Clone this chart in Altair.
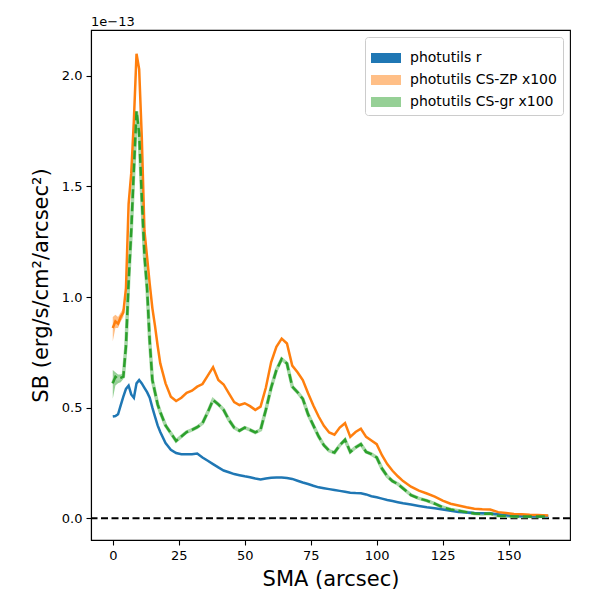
import pandas as pd
import altair as alt

# semi-major axis grid (arcsec)
sma = [0, 1, 2, 3, 4, 5, 6, 7, 8, 9, 10, 11, 12, 13, 14, 15, 16, 17, 18,
       20, 22, 24, 26, 28, 30, 32, 34, 36, 38, 40, 42, 44, 46, 48, 50, 52, 54, 56, 58,
       60, 62, 64, 66, 68, 70, 72, 74, 76, 78, 80, 82, 84, 86, 88, 90, 92, 94, 96, 98,
       100, 102, 104, 106, 108, 110,
       113, 116, 119, 122, 125, 128, 131, 134, 137, 140, 143, 146, 149, 152, 155, 158, 161,
       165]

# surface brightness in units of 1e-13
sb_r = [0.46, 0.462, 0.47, 0.51, 0.55, 0.585, 0.60, 0.56, 0.545, 0.61, 0.625, 0.61, 0.59, 0.57, 0.545, 0.50, 0.46, 0.42, 0.39,
        0.34, 0.31, 0.295, 0.29, 0.29, 0.29, 0.293, 0.275, 0.26, 0.245, 0.23, 0.216, 0.208, 0.20, 0.195, 0.19, 0.186, 0.18, 0.176, 0.18,
        0.183, 0.184, 0.184, 0.182, 0.178, 0.17, 0.162, 0.155, 0.147, 0.14, 0.136, 0.132, 0.128, 0.124, 0.12, 0.116, 0.114, 0.113, 0.108, 0.10,
        0.095, 0.089, 0.083, 0.078, 0.073, 0.068,
        0.062, 0.056, 0.05, 0.045, 0.04, 0.034, 0.028, 0.026, 0.024, 0.023, 0.022, 0.018, 0.014, 0.01, 0.009, 0.008, 0.008,
        0.008]

sb_zp = [0.86, 0.89, 0.88, 0.91, 0.93, 1.04, 1.42, 1.56, 1.80, 2.10, 2.03, 1.72, 1.30, 1.18, 1.06, 0.95, 0.87, 0.78, 0.70,
         0.61, 0.55, 0.53, 0.545, 0.567, 0.577, 0.595, 0.607, 0.645, 0.683, 0.625, 0.605, 0.565, 0.525, 0.512, 0.52, 0.507, 0.49, 0.505, 0.59,
         0.705, 0.775, 0.812, 0.79, 0.69, 0.66, 0.625, 0.565, 0.51, 0.46, 0.418, 0.388, 0.378, 0.41, 0.43, 0.368, 0.39, 0.405, 0.368, 0.352,
         0.335, 0.285, 0.245, 0.215, 0.19, 0.168,
         0.143, 0.125, 0.112, 0.098, 0.08, 0.066, 0.058, 0.05, 0.043, 0.041, 0.04, 0.028, 0.024, 0.02, 0.018, 0.016, 0.015,
         0.013]

sb_gr = [0.61, 0.64, 0.63, 0.635, 0.64, 0.78, 1.07, 1.30, 1.58, 1.84, 1.74, 1.45, 1.19, 1.04, 0.80, 0.625, 0.57, 0.515, 0.48,
         0.42, 0.385, 0.35, 0.37, 0.39, 0.40, 0.412, 0.43, 0.48, 0.535, 0.515, 0.49, 0.445, 0.41, 0.396, 0.41, 0.40, 0.388, 0.40, 0.49,
         0.59, 0.67, 0.72, 0.70, 0.595, 0.57, 0.54, 0.47, 0.42, 0.37, 0.33, 0.305, 0.297, 0.33, 0.355, 0.30, 0.32, 0.335, 0.30, 0.29,
         0.275, 0.225, 0.19, 0.168, 0.155, 0.135,
         0.105, 0.09, 0.08, 0.066, 0.05, 0.04, 0.034, 0.028, 0.022, 0.02, 0.022, 0.012, 0.01, 0.008, 0.008, 0.008, 0.008,
         0.009]

# noisy uncertainty band near the centre
band_sma = [0, 1, 2, 3, 4, 5, 6]
zp_lo = [0.80, 0.86, 0.86, 0.89, 0.91, 1.02, 1.40]
zp_hi = [0.91, 0.92, 0.91, 0.93, 0.95, 1.06, 1.44]
gr_lo = [0.54, 0.60, 0.61, 0.615, 0.63, 0.77, 1.05]
gr_hi = [0.67, 0.66, 0.65, 0.65, 0.655, 0.80, 1.09]

labels = ["photutils r", "photutils CS-ZP x100", "photutils CS-gr x100"]
x_ticks = [0, 25, 50, 75, 100, 125, 150]
y_ticks = [0.0, 0.5, 1.0, 1.5, 2.0]

FONT = "DejaVu Sans"

prof = pd.DataFrame({"sma": sma, "r": sb_r, "zp": sb_zp, "gr": sb_gr})
band = pd.concat([
    pd.DataFrame({"sma": band_sma, "lo": zp_lo, "hi": zp_hi, "series": labels[1]}),
    pd.DataFrame({"sma": band_sma, "lo": gr_lo, "hi": gr_hi, "series": labels[2]}),
])

xs = alt.Scale(domain=[-8.25, 173.25], nice=False, zero=False)
ys = alt.Scale(domain=[-0.098, 2.207], nice=False, zero=False)
x_enc = alt.X("sma:Q", scale=xs, axis=alt.Axis(values=x_ticks, title="SMA (arcsec)"))

bands = alt.Chart(band).mark_area(opacity=1).encode(
    x=x_enc,
    y=alt.Y("lo:Q", scale=ys, axis=alt.Axis(values=y_ticks, format=".1f",
                                           title="SB (erg/s/cm²/arcsec²)")),
    y2="hi:Q",
    color=alt.Color("series:N",
                    scale=alt.Scale(domain=labels, range=["#1f77b4", "#ffbf87", "#96d096"]),
                    legend=alt.Legend(title=None)),
)

zero = alt.Chart(pd.DataFrame({"y": [0]})).mark_rule(
    color="black", strokeWidth=2, strokeDash=[7, 3.5]
).encode(y=alt.Y("y:Q", scale=ys))

base = alt.Chart(prof).encode(x=x_enc)
halo = base.mark_line(color="#a8d8a8", strokeWidth=3.5).encode(y=alt.Y("gr:Q", scale=ys))
line_r = base.mark_line(color="#1f77b4", strokeWidth=2.5).encode(y=alt.Y("r:Q", scale=ys))
line_zp = base.mark_line(color="#ff7f0e", strokeWidth=2.5).encode(y=alt.Y("zp:Q", scale=ys))
line_gr = base.mark_line(color="#2ca02c", strokeWidth=2.5, strokeDash=[9, 4]).encode(y=alt.Y("gr:Q", scale=ys))

offset = alt.Chart(pd.DataFrame({"t": ["1e−13"]})).mark_text(
    align="left", baseline="alphabetic", fontSize=13, font=FONT
).encode(x=alt.value(0), y=alt.value(-4), text="t:N")

chart = alt.layer(bands, zero, halo, line_r, line_zp, line_gr, offset).properties(
    width=479,
    height=510,
    autosize=alt.AutoSizeParams(type="none"),
    padding={"left": 83, "top": 22, "right": 22, "bottom": 52},
).configure_view(
    stroke="black", strokeWidth=1.1
).configure_axis(
    grid=False,
    domainColor="black",
    domainWidth=1.1,
    tickColor="black",
    tickWidth=1.1,
    tickSize=5,
    labelColor="black",
    titleColor="black",
    labelFont=FONT,
    titleFont=FONT,
    labelFontSize=13,
    titleFontSize=21,
    titleFontWeight="normal",
    labelPadding=4,
).configure_axisX(
    titlePadding=6
).configure_axisY(
    titlePadding=10
).configure_legend(
    orient="top-right",
    offset=7,
    fillColor="white",
    strokeColor="#cccccc",
    cornerRadius=3,
    padding=6,
    labelFont=FONT,
    labelFontSize=14,
    labelColor="black",
    symbolType="M-1,-0.333H1V0.333H-1Z",
    symbolSize=900,
    symbolStrokeWidth=0,
    symbolOpacity=1,
    labelOffset=9,
    rowPadding=-10,
)

chart.save("out.html", embed_options={"renderer": "svg", "actions": False})
